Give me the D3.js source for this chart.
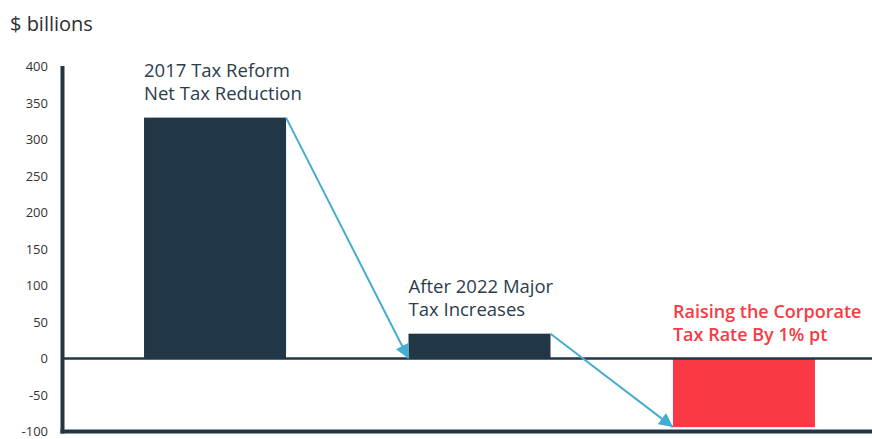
<!DOCTYPE html>
<html>
<head>
<meta charset="utf-8">
<script src="https://cdn.jsdelivr.net/npm/d3@7"></script>
<style>
  html, body { margin: 0; padding: 0; background: #fff; }
  svg { display: block; font-family: "Open Sans", Lato, sans-serif; }
</style>
</head>
<body>
<svg id="chart" width="872" height="439"></svg>
<script>
// Net tax change, $ billions
const categories = ["2017 Tax Reform Net Tax Reduction", "After 2022 Major Tax Increases", "Raising the Corporate Tax Rate By 1% pt"];
const values = [330, 34, -94];
const labelLines = [
  ["2017 Tax Reform", "Net Tax Reduction"],
  ["After 2022 Major", "Tax Increases"],
  ["Raising the Corporate", "Tax Rate By 1% pt"]
];
const barColors = ["#213747", "#213747", "#f93a45"];
const labelColors = ["#2b3c4b", "#2b3c4b", "#f93a45"];
const yTicks = [400, 350, 300, 250, 200, 150, 100, 50, 0, -50, -100];

const svg = d3.select("#chart");
const navy = "#213747";
const arrowColor = "#46acd0";

const y = d3.scaleLinear().domain([-100, 400]).range([431.5, 66.5]);
const x = d3.scaleBand()
  .domain(categories)
  .range([63, 872])
  .paddingInner(0.463)
  .paddingOuter(0.261)
  .align(0.587);

// unit label
svg.append("text")
  .attr("x", 10).attr("y", 31)
  .attr("font-size", 20).attr("fill", "#2b2f33")
  .text("$ billions");

// y tick labels
svg.append("g")
  .selectAll("text")
  .data(yTicks)
  .join("text")
  .attr("x", 48)
  .attr("y", d => y(d))
  .attr("dy", "0.35em")
  .attr("text-anchor", "end")
  .attr("font-size", 13)
  .attr("fill", "#333")
  .text(d => d);

// bars
svg.append("g")
  .selectAll("rect")
  .data(values)
  .join("rect")
  .attr("x", (d, i) => x(categories[i]))
  .attr("width", x.bandwidth())
  .attr("y", d => Math.min(y(d), y(0)))
  .attr("height", d => Math.abs(y(d) - y(0)))
  .attr("fill", (d, i) => barColors[i]);

// zero line and axes
svg.append("line")
  .attr("x1", 63).attr("x2", 872)
  .attr("y1", y(0)).attr("y2", y(0))
  .attr("stroke", navy).attr("stroke-width", 2.5);
svg.append("line")
  .attr("x1", 62.5).attr("x2", 62.5)
  .attr("y1", y(400) - 0.5).attr("y2", y(-100) + 2)
  .attr("stroke", navy).attr("stroke-width", 4);
svg.append("line")
  .attr("x1", 60.5).attr("x2", 872)
  .attr("y1", y(-100)).attr("y2", y(-100))
  .attr("stroke", navy).attr("stroke-width", 4);

// arrow marker
svg.append("defs").append("marker")
  .attr("id", "head")
  .attr("viewBox", "0 0 10 10")
  .attr("refX", 10).attr("refY", 5)
  .attr("markerWidth", 14).attr("markerHeight", 14)
  .attr("markerUnits", "userSpaceOnUse")
  .attr("orient", "auto")
  .append("path")
  .attr("d", "M0,0 L10,5 L0,10 Z")
  .attr("fill", arrowColor);

// connector arrows: top-right of one bar to bottom of the next bar
const arrows = d3.range(values.length - 1).map(i => {
  const cur = values[i], nxt = values[i + 1];
  return {
    x1: x(categories[i]) + x.bandwidth(),
    y1: y(Math.max(cur, 0)),
    x2: x(categories[i + 1]),
    y2: y(Math.min(nxt, 0))
  };
});
svg.append("g")
  .selectAll("line")
  .data(arrows)
  .join("line")
  .attr("x1", d => d.x1).attr("y1", d => d.y1)
  .attr("x2", d => d.x2).attr("y2", d => d.y2)
  .attr("stroke", arrowColor)
  .attr("stroke-width", 2)
  .attr("marker-end", "url(#head)");

// bar labels
const lbl = svg.append("g")
  .selectAll("text")
  .data(labelLines)
  .join("text")
  .attr("x", (d, i) => x(categories[i]))
  .attr("y", (d, i) => y(Math.max(values[i], 0)) - 41)
  .attr("font-size", (d, i) => i === 2 ? 18 : 18.5)
  .attr("font-weight", (d, i) => i === 2 ? 600 : 400)
  .attr("fill", (d, i) => labelColors[i]);
lbl.selectAll("tspan")
  .data(d => d)
  .join("tspan")
  .attr("x", function () { return d3.select(this.parentNode).attr("x"); })
  .attr("dy", (d, j) => j === 0 ? 0 : 23)
  .text(d => d);
</script>
</body>
</html>
